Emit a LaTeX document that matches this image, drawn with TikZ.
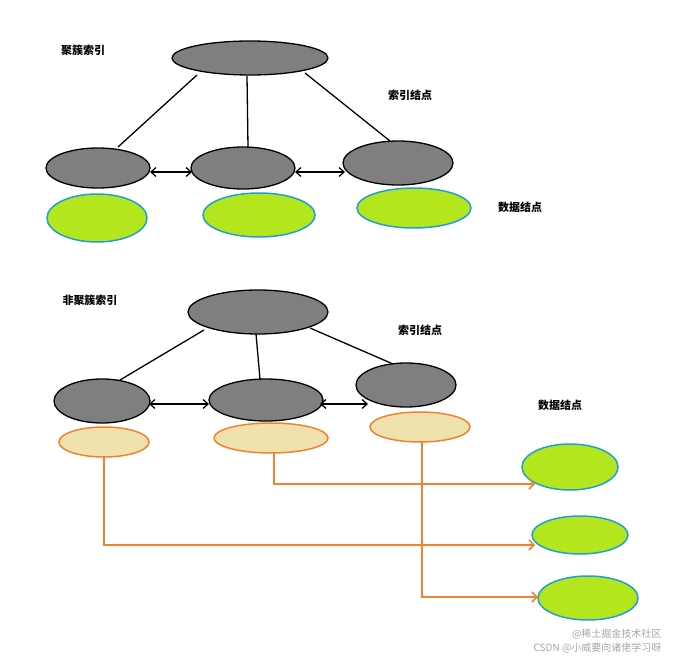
\documentclass[tikz,border=0pt]{standalone}
\usepackage{fontspec}
\setmainfont{Noto Sans CJK SC}
\usetikzlibrary{arrows.meta}
\definecolor{ng}{RGB}{127,127,127}
\definecolor{gf}{RGB}{180,230,30}
\definecolor{gb}{RGB}{30,160,215}
\definecolor{tf}{RGB}{240,226,172}
\definecolor{ob}{RGB}{240,130,50}
\begin{document}
\begin{tikzpicture}[x=1pt,y=-1pt,
 idx/.style={draw=black,line width=1.3pt,fill=ng},
 dat/.style={draw=gb,line width=1.5pt,fill=gf},
 tan/.style={draw=ob,line width=1.5pt,fill=tf},
 lbl/.style={font=\bfseries\fontsize{11}{13}\selectfont},
 edge/.style={line width=1.3pt},
 dbl/.style={line width=1.3pt,{Straight Barb[length=5pt,width=9pt]}-{Straight Barb[length=5pt,width=9pt]}},
 oc/.style={draw=ob,line width=1.5pt,-{Straight Barb[length=5pt,width=10pt]}}]
\useasboundingbox (0,0) rectangle (681,661);
\fill[white] (0,0) rectangle (681,661);
% top section
\node[lbl] (l1) at (83,50) {聚簇索引};
\node[lbl] (l2) at (410,95) {索引结点};
\node[lbl] (l3) at (520,207) {数据结点};
\draw[idx] (250,58) ellipse (78 and 17);
\draw[idx] (98,168) ellipse (52 and 20);
\draw[idx] (243,168) ellipse (52 and 21);
\draw[idx] (398,163) ellipse (55 and 22);
\draw[edge] (197,75) -- (118,147);
\draw[edge] (247,76) -- (248,147);
\draw[edge] (305,73) -- (390,141);
\draw[dbl] (150,172) -- (192,172);
\draw[dbl] (295,172) -- (345,172);
\draw[dat] (97,218) ellipse (50 and 24);
\draw[dat] (259,215) ellipse (56 and 22);
\draw[dat] (414,208) ellipse (57 and 20);
% bottom section
\node[lbl] (l4) at (90,300) {非聚簇索引};
\node[lbl] (l5) at (420,330) {索引结点};
\node[lbl] (l6) at (560,405) {数据结点};
\draw[idx] (258,312) ellipse (70 and 22);
\draw[idx] (102,401) ellipse (48 and 22);
\draw[idx] (266,400) ellipse (57 and 21);
\draw[idx] (406,385) ellipse (50 and 22);
\draw[edge] (204,330) -- (120,380);
\draw[edge] (256,334) -- (260,379);
\draw[edge] (310,328) -- (393,364);
\draw[dbl] (149,404) -- (209,404);
\draw[dbl] (320,404) -- (368,404);
\draw[tan] (104,442) ellipse (45 and 15);
\draw[tan] (271,438) ellipse (57 and 15);
\draw[tan] (420,427) ellipse (50 and 15);
\draw[dat] (570,467) ellipse (48 and 23);
\draw[dat] (580,535) ellipse (48 and 19);
\draw[dat] (588,598) ellipse (50 and 22);
\draw[oc] (274,453) -- (274,484) -- (535,484);
\draw[oc] (104,457) -- (104,545) -- (535,545);
\draw[oc] (422,442) -- (422,597) -- (538,597);
\node[text=gray!70,font=\fontsize{10}{12}\selectfont,anchor=east] (w1) at (665,634) {@稀土掘金技术社区};
\node[text=gray!70,font=\fontsize{10}{12}\selectfont,anchor=east] (w2) at (665,648) {CSDN @小威要向诸佬学习呀};
\end{tikzpicture}
\end{document}
